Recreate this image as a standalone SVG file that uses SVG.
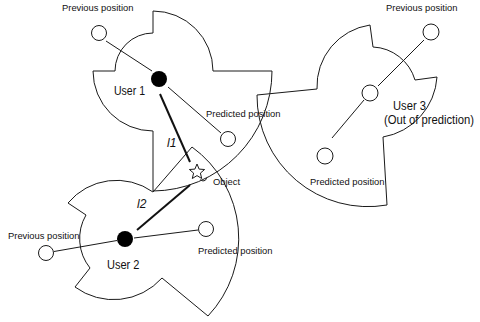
<svg xmlns="http://www.w3.org/2000/svg" width="480" height="322" viewBox="0 0 480 322">
<style>
.area{fill:none;stroke:#1a1a1a;stroke-width:1}
.ln{stroke:#1a1a1a;stroke-width:1;fill:none}
.dist{stroke:#111;stroke-width:2;fill:none}
.pos{fill:#fff;stroke:#1a1a1a;stroke-width:1}
.usr{fill:#000}
.lbl{font-family:"Liberation Sans",Arial,sans-serif;font-size:9.4px;fill:#111}
.uname{font-family:"Liberation Sans",Arial,sans-serif;font-size:12px;fill:#111}
.dl{font-family:"Liberation Sans",Arial,sans-serif;font-size:12px;font-style:italic;fill:#111}
</style>
<rect width="480" height="322" fill="#fff"/>
<g id="user1">
<path class="area" d="M153,11 A60,60 0 0 1 213,71 L272,71 A120,120 0 0 1 153,191 L153,131 A60,60 0 0 1 93,71 L115,71 A38,38 0 0 1 153,33 Z"/>
<circle class="pos" cx="99" cy="33" r="7.5"/>
<circle class="pos" cx="228" cy="139" r="7.5"/>
<circle class="usr" cx="159" cy="79" r="8"/>
<text class="uname" x="114" y="94.5" textLength="31" lengthAdjust="spacingAndGlyphs">User 1</text>
<text class="lbl" x="62" y="10.5">Previous position</text>
<text class="lbl" x="206" y="116.5">Predicted position</text>
</g>
<g id="user2">
<path class="area" d="M153,192 A63,63 0 0 0 68,203 L86,215 A47,47 0 0 0 90,268 L75,287 A65,65 0 0 0 162,278 L208,316 A113,113 0 0 0 192,147 Z"/>
<circle class="pos" cx="46" cy="253" r="7.5"/>
<circle class="pos" cx="206" cy="229" r="7.5"/>
<circle class="usr" cx="125" cy="239" r="8"/>
<text class="uname" x="107" y="268.5" textLength="32.5" lengthAdjust="spacingAndGlyphs">User 2</text>
<text class="lbl" x="8" y="238.5">Previous position</text>
<text class="lbl" x="198" y="253.5">Predicted position</text>
</g>
<g id="user3">
<path class="area" d="M257,95 L317,89 A62,62 0 0 1 370,25 L373,47 A46,46 0 0 1 415,80 L437,77 A65,65 0 0 1 383,137 L387,205 A111,111 0 0 1 257,95 Z"/>
<circle class="pos" cx="431" cy="32" r="8"/>
<circle class="pos" cx="325" cy="156" r="8"/>
<circle class="pos" cx="370" cy="93" r="8"/>
<text class="uname" x="393" y="109.5" textLength="33" lengthAdjust="spacingAndGlyphs">User 3</text>
<text class="uname" x="384" y="123.5" textLength="90" lengthAdjust="spacingAndGlyphs">(Out of prediction)</text>
<text class="lbl" x="386" y="10.5">Previous position</text>
<text class="lbl" x="310" y="185">Predicted position</text>
</g>
<g id="object">
<polygon class="pos" points="197,164 199.1,169.1 204.6,169.5 200.4,173.1 201.7,178.5 197,175.6 192.3,178.5 193.6,173.1 189.4,169.5 194.9,169.1"/>
<path class="ln" d="M200.5,179.5 a3.3,3.3 0 0 0 6,-1.5"/>
<text class="lbl" x="213" y="185">Object</text>
</g>
<g id="connectors">
<line class="ln" x1="106" y1="41" x2="152" y2="71"/>
<line class="ln" x1="168" y1="87" x2="221" y2="133"/>
<line class="ln" x1="54" y1="251.5" x2="117" y2="240.5"/>
<line class="ln" x1="134" y1="238" x2="198" y2="230"/>
<line class="ln" x1="378" y1="86" x2="424" y2="40"/>
<line class="ln" x1="364" y1="100" x2="332" y2="138"/>
<line class="dist" x1="160" y1="94" x2="190" y2="162"/>
<line class="dist" x1="137" y1="230" x2="190" y2="185"/>
<text class="dl" x="167" y="147">l1</text>
<text class="dl" x="137" y="207.5">l2</text>
</g>
</svg>
